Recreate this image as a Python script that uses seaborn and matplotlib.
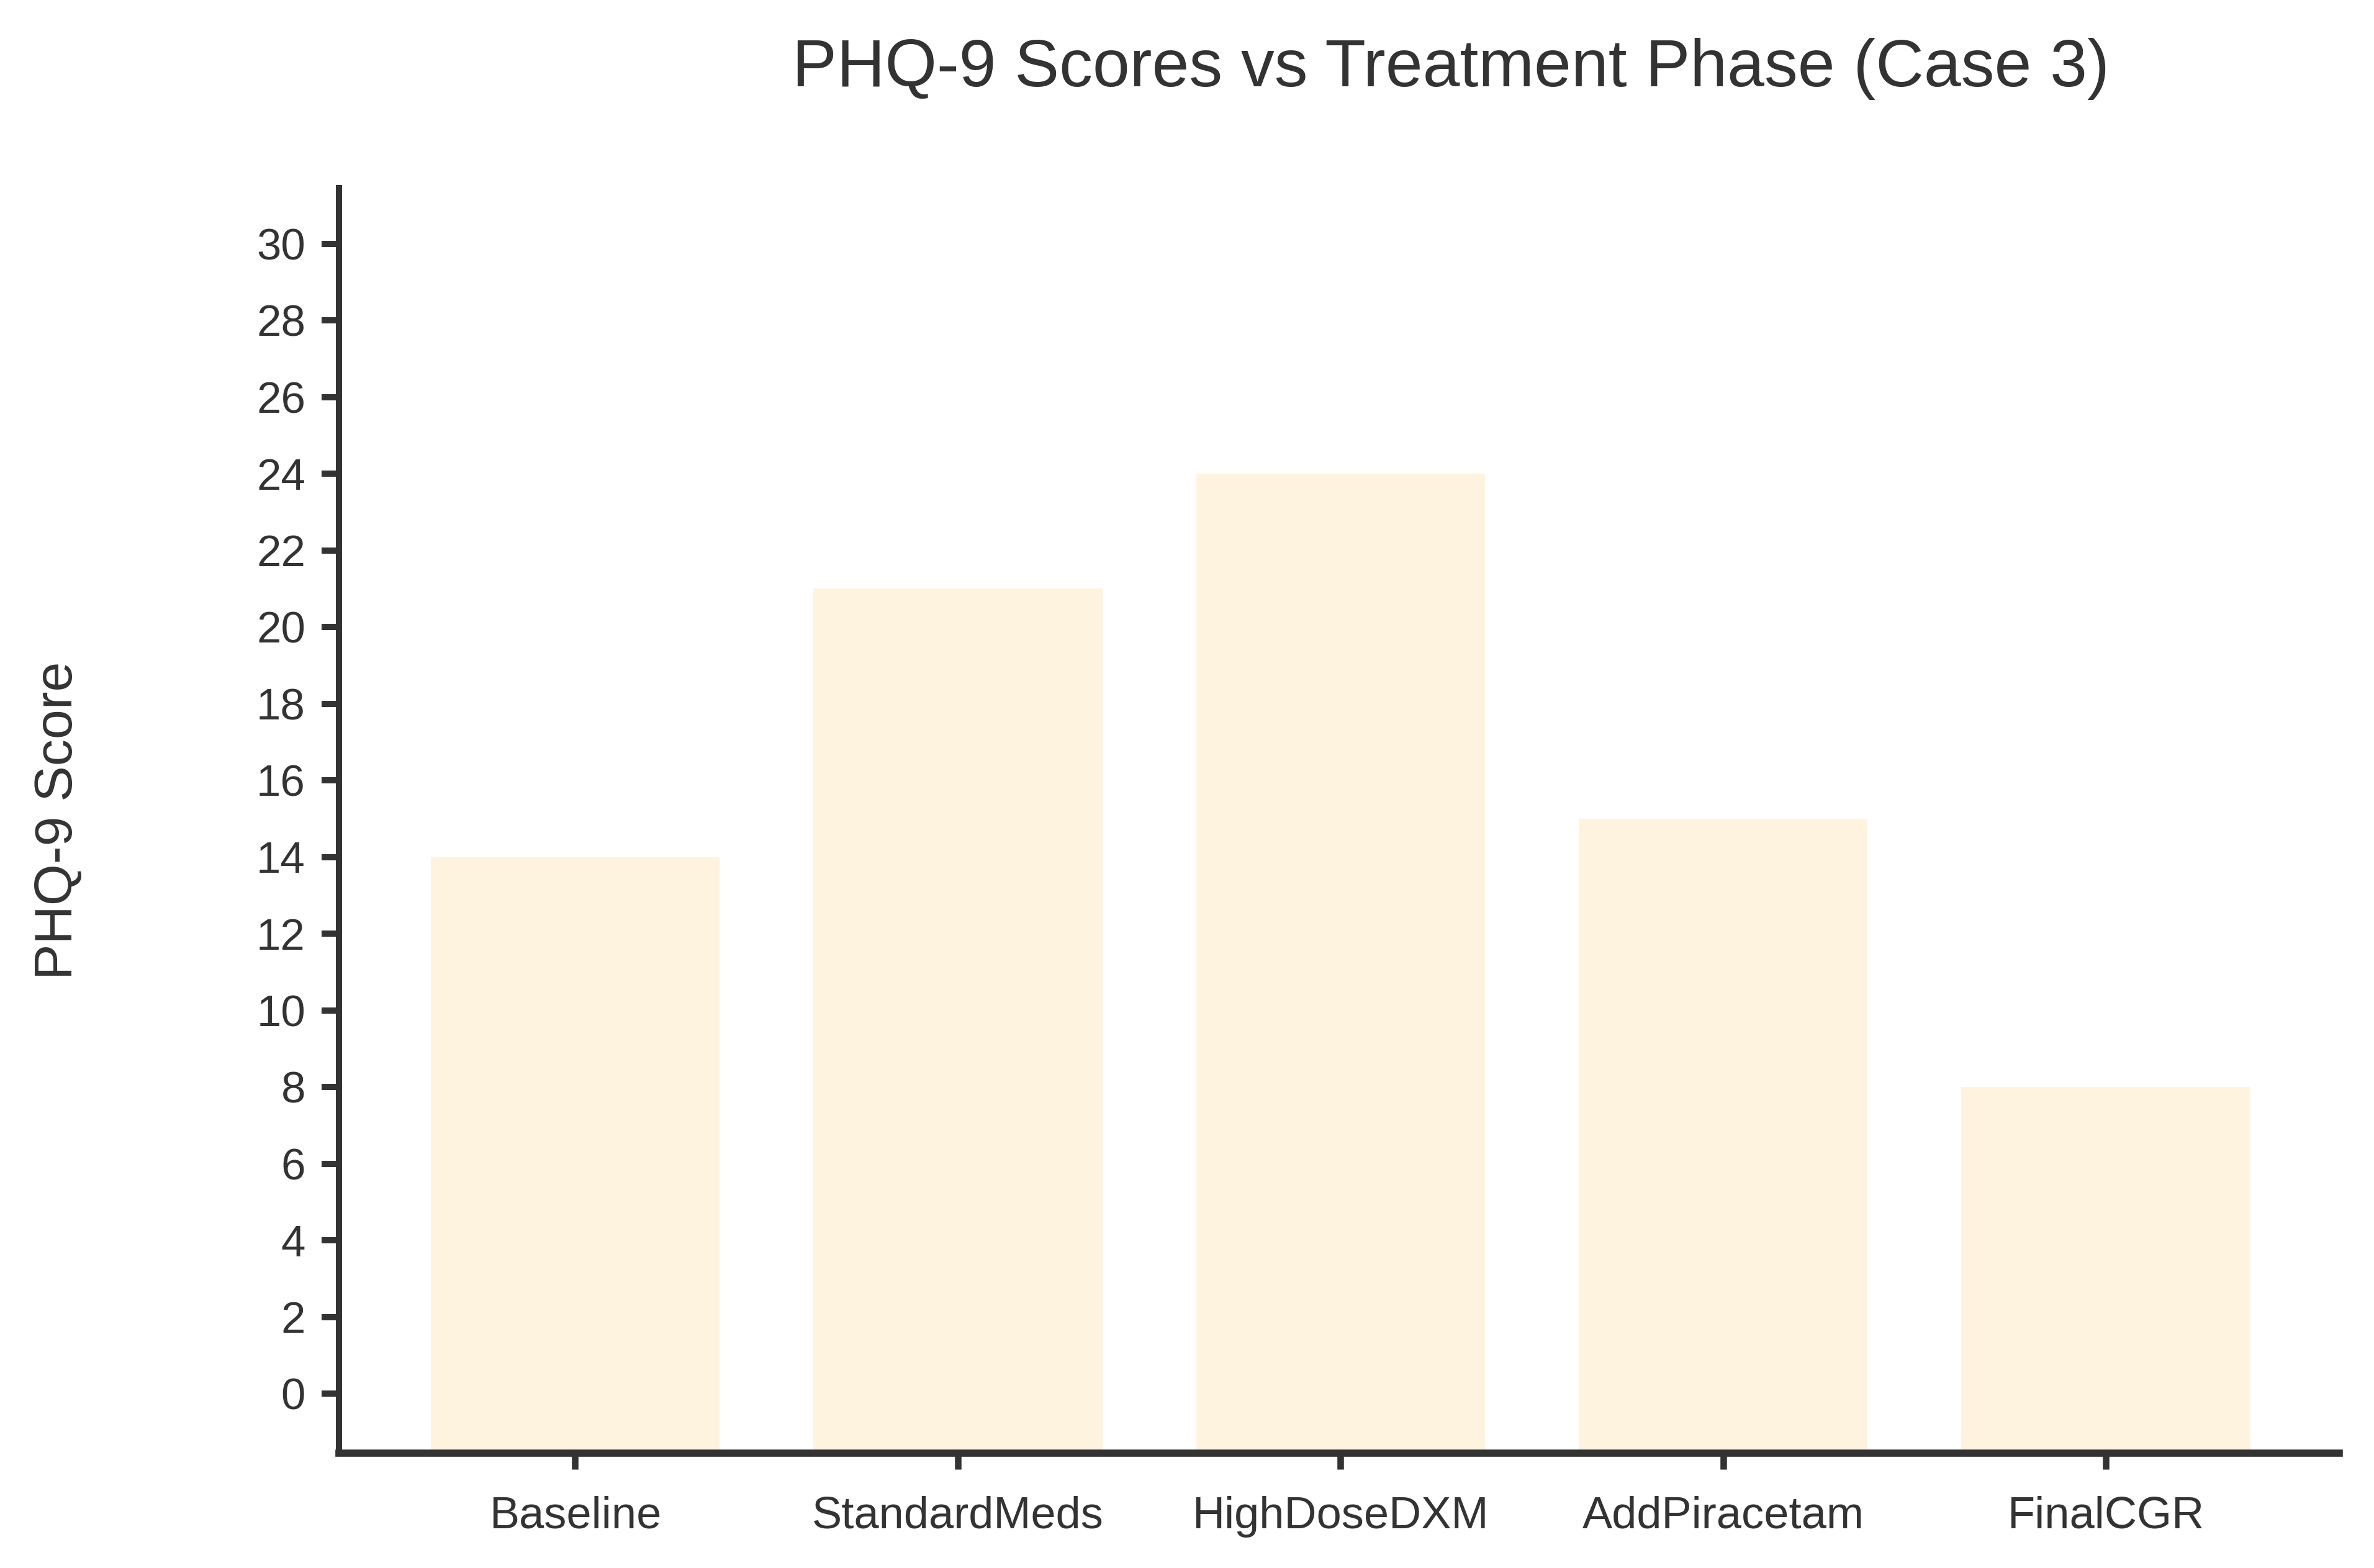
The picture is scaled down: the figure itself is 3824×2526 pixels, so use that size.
import matplotlib
matplotlib.use("Agg")
import matplotlib.pyplot as plt
import seaborn as sns
import pandas as pd

phases = ["Baseline", "StandardMeds", "HighDoseDXM", "AddPiracetam", "FinalCGR"]
scores = [14, 21, 24, 15, 8]
y_ticks = list(range(0, 31, 2))

sns.set_theme(style="ticks")
plt.rcParams["font.family"] = ["Liberation Sans", "DejaVu Sans"]

TXT = "#333333"
BAR = "#FEF3DE"

df = pd.DataFrame({"Phase": phases, "Score": scores})

fig = plt.figure(figsize=(19.12, 12.63), dpi=200)
ax = fig.add_axes([0.1428, 0.0732, 0.9854 - 0.1428, 0.880 - 0.0732])

sns.barplot(data=df, x="Phase", y="Score", color=BAR, saturation=1, width=0.755,
            edgecolor="none", linewidth=0, ax=ax)

ymin, ymax = -1.55, 31.45
ax.set_ylim(ymin, ymax)
ax.set_xlim(-0.617, 4.61)
for p in ax.patches:
    top = p.get_y() + p.get_height()
    p.set_y(ymin)
    p.set_height(top - ymin)

ax.set_yticks(y_ticks)
ax.set_yticklabels([str(v) for v in y_ticks])

for s in ["top", "right"]:
    ax.spines[s].set_visible(False)
ax.spines["left"].set_linewidth(3.6)
ax.spines["left"].set_color(TXT)
ax.spines["bottom"].set_linewidth(4.2)
ax.spines["bottom"].set_color(TXT)

ax.tick_params(axis="y", length=10, width=3.6, color=TXT, labelcolor=TXT, labelsize=25.5, pad=9.5)
ax.tick_params(axis="x", length=9.2, width=3.8, color=TXT, labelcolor=TXT, labelsize=26, pad=15.5)

ax.set_xlabel("")
ax.set_ylabel("PHQ-9 Score", fontsize=31, color=TXT)
ax.yaxis.set_label_coords(-0.128, 0.5)

fig.text(0.611, 0.956, "PHQ-9 Scores vs Treatment Phase (Case 3)", ha="center", va="center",
         fontsize=38.7, color=TXT)

fig.savefig("out.png", dpi=200, facecolor="white")
